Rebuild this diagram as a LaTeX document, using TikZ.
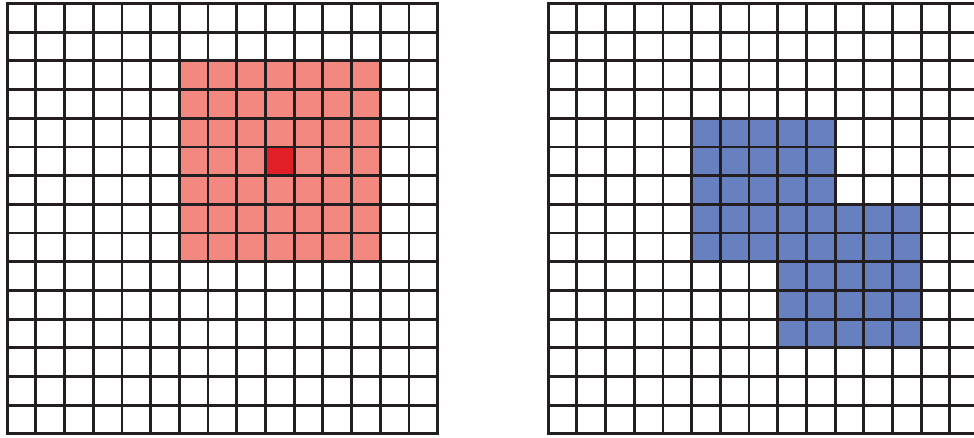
\documentclass[tikz,border=0pt]{standalone}
\usepackage{xcolor}
\usepackage{tikz}
\definecolor{gridc}{HTML}{231F20}
\definecolor{nbhd}{HTML}{F28880}
\definecolor{centre}{HTML}{E01F26}
\definecolor{regblue}{HTML}{6680C0}
\tikzset{
  gridl/.style={gridc,line width=1.4pt,line cap=rect},
  nbcell/.style={fill=nbhd},
  ctcell/.style={fill=centre},
  regcell/.style={fill=regblue}
}

\begin{document}
\begin{tikzpicture}[x=0.5cm,y=0.5cm]
\useasboundingbox (-0.25,-0.14) rectangle (33.69,15.12);
% left grid: 7x7 window round one pixel
\fill[nbcell] (6,6) rectangle (13,13);
\fill[ctcell] (9,9) rectangle (10,10);
\foreach \k in {0,...,15}{\draw[gridl] (\k,0)--(\k,15) (0,\k)--(15,\k);}
% right grid: two overlapping 5x5 blocks
\begin{scope}[xshift=18.85*0.5cm]
\foreach \a/\b in {5/6,8/3}{\fill[regcell] (\a,\b) rectangle ++(5,5);}
\foreach \k in {0,...,15}{\draw[gridl] (\k,0)--(\k,15) (0,\k)--(15,\k);}
\end{scope}
\end{tikzpicture}
\end{document}
